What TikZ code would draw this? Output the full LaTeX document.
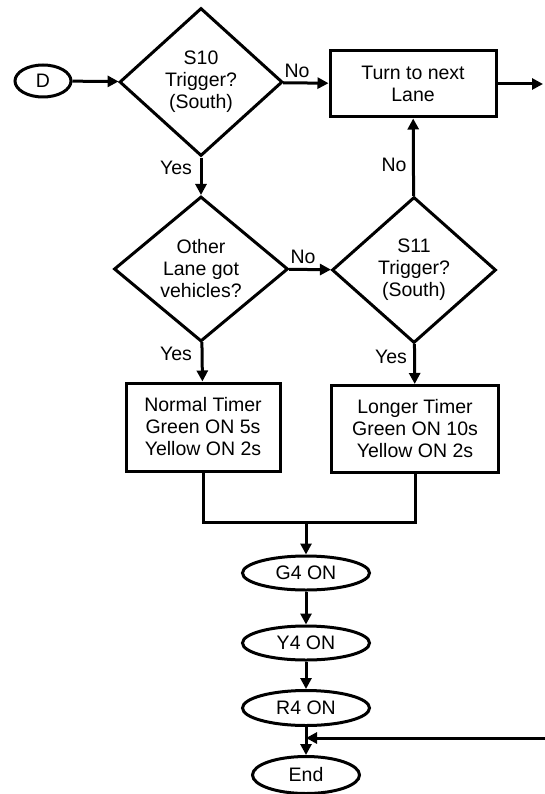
\documentclass[tikz,border=0pt]{standalone}
\usepackage{fontspec}
\setmainfont{Liberation Sans}
\usepackage{tikz}
\usetikzlibrary{positioning,arrows.meta,shapes.geometric}

\begin{document}
\begin{tikzpicture}[
  x=1pt, y=-1pt,
  line width=3pt,
  dec/.style={draw, diamond, inner sep=0pt, align=center, font=\fontsize{19.5}{22}\selectfont},
  proc/.style={draw, rectangle, inner sep=0pt, align=center, font=\fontsize{19.5}{22}\selectfont},
  term/.style={draw, ellipse, inner sep=0pt, font=\fontsize{19.5}{22}\selectfont},
  lbl/.style={font=\fontsize{19.5}{22}\selectfont},
  arrow/.style={-{Triangle[length=11pt,width=11pt]}},
  >=Triangle
]
\useasboundingbox (0,0) rectangle (544,794);

\node[term, minimum width=56pt, minimum height=32pt] (d) at (43,81) {D};
\node[dec, minimum width=163pt, minimum height=148pt] (s10) at (201,82) {S10\\Trigger?\\(South)};
\node[proc, minimum width=166pt, minimum height=66pt] (turn) at (413,84) {Turn to next\\Lane};
\node[dec, minimum width=174pt, minimum height=145pt] (other) at (201,269) {Other\\Lane got\\vehicles?};
\node[dec, minimum width=164pt, minimum height=146pt] (s11) at (414,270) {S11\\Trigger?\\(South)};
\node[proc, minimum width=154pt, minimum height=88pt] (normal) at (203,427) {Normal Timer\\Green ON 5s\\Yellow ON 2s};
\node[proc, minimum width=167pt, minimum height=87pt] (longer) at (415,429) {Longer Timer\\Green ON 10s\\Yellow ON 2s};
\node[term, minimum width=127pt, minimum height=34pt] (g4) at (306,573) {G4 ON};
\node[term, minimum width=127pt, minimum height=34pt] (y4) at (306,643) {Y4 ON};
\node[term, minimum width=127pt, minimum height=35pt] (r4) at (306,708) {R4 ON};
\node[term, minimum width=107pt, minimum height=37pt] (end) at (306,775) {End};

\coordinate (nextlane) at (543,84);
\coordinate (merge) at (306,522);
\coordinate (loopin) at (545,738);
\coordinate (join) at (306,738);

% labels
\node[lbl] (no1) at (297,71) {No};
\node[lbl] (yes1) at (176,168) {Yes};
\node[lbl] (no2) at (303,257) {No};
\node[lbl] (no3) at (394,165) {No};
\node[lbl] (yes2) at (176,354) {Yes};
\node[lbl] (yes3) at (391,357) {Yes};

\draw[arrow] (d) -- (s10);
\draw[arrow] (s10) -- (turn);
\draw[arrow] (turn) -- (nextlane);
\draw[arrow] (s10) -- (other);
\draw[arrow] (other) -- (s11);
\draw[arrow] (s11) -- (turn);
\draw[arrow] (other) -- (normal);
\draw[arrow] (s11) -- (longer);
\draw (normal.south) |- (merge) -| (longer.south);
\draw[arrow] (merge) -- (g4);
\draw[arrow] (g4) -- (y4);
\draw[arrow] (y4) -- (r4);
\draw[arrow] (r4) -- (end);
\draw[arrow] (loopin) -- (join);

\end{tikzpicture}
\end{document}
